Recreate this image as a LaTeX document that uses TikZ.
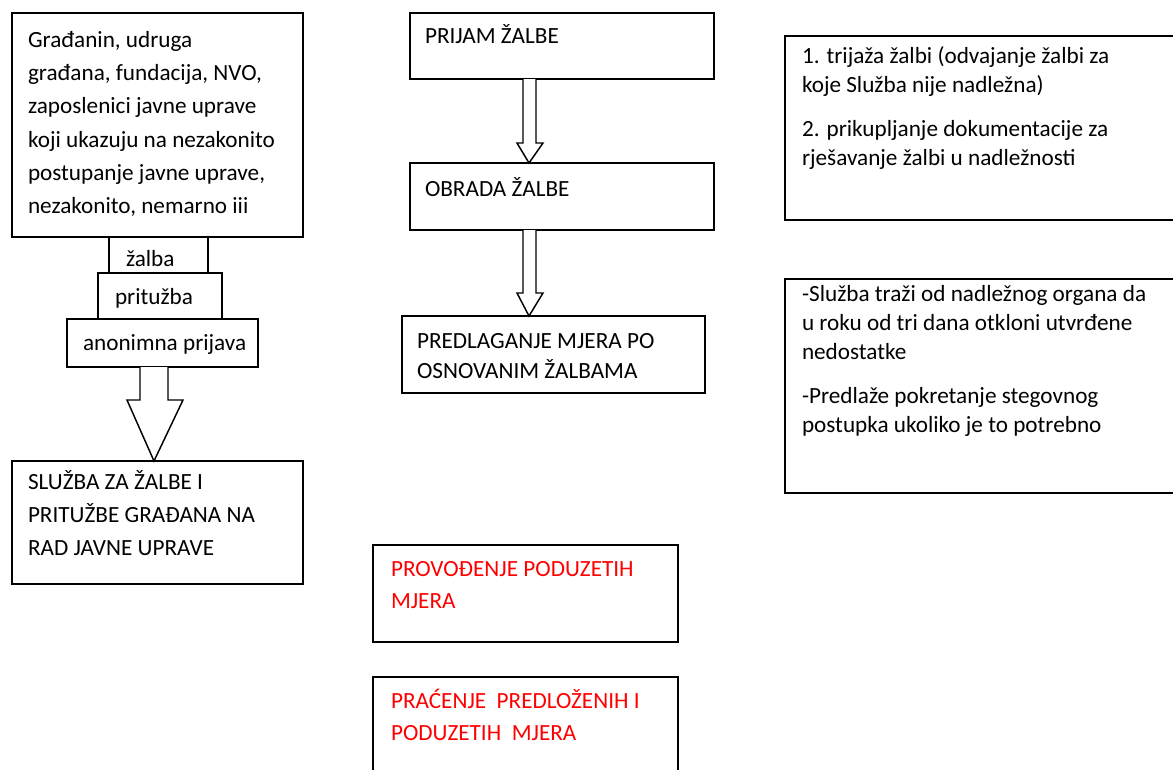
\documentclass[tikz,border=0pt]{standalone}
\usepackage{fontspec}
\setmainfont{Carlito}
\usetikzlibrary{calc}
\newcommand{\bx}[5]{\node[box, anchor=north west, minimum width={(#4-#2)*0.75pt}, minimum height={(#5-#3)*0.75pt}] (#1) at (#2,#3) {};}
\begin{document}
\begin{tikzpicture}[x=0.75pt, y=-0.75pt,
  box/.style={draw, line width=1.1pt, inner sep=0pt, outer sep=0pt},
  txt/.style={anchor=base west, inner sep=0pt, outer sep=0pt},
  lft/.style={txt, font=\fontsize{17.4}{25}\selectfont},
  mid/.style={txt, font=\fontsize{17.4}{22.5}\selectfont},
  rgt/.style={txt, font=\fontsize{17.4}{21.75}\selectfont},
  red/.style={txt, text=red, font=\fontsize{17.4}{24}\selectfont},
  blockarrow/.style={draw, fill=white, line width=1.1pt, line join=miter}]
\useasboundingbox (0,0) rectangle (1173,769);
\clip (0,0) rectangle (1173,769);
% boxes
\bx{src}{12}{13}{303}{237}
\bx{zalba}{109}{237}{208}{273}
\bx{prit}{98}{273}{222}{319}
\bx{anon}{67}{319}{258}{367}
\bx{svc}{12}{461}{303}{584}
\bx{prijam}{410}{13}{714}{79}
\bx{obrada}{410}{163}{714}{230}
\bx{predl}{402}{316}{705}{393}
\bx{tri}{785}{36}{1190}{220}
\bx{sluz}{785}{279}{1190}{493}
\bx{prov}{373}{545}{678}{642}
\bx{prac}{373}{677}{678}{790}
% texts
\node[lft] (srcT) at (28,47) {\parbox[t]{300pt}{Građanin, udruga\\građana, fundacija, NVO,\\zaposlenici javne uprave\\koji ukazuju na nezakonito\\postupanje javne uprave,\\nezakonito, nemarno iii}};
\node[lft] (zalbaT) at (126,266) {žalba};
\node[lft] (pritT) at (115,304) {pritužba};
\node[lft] (anonT) at (83,350) {anonimna prijava};
\node[lft] (svcT) at (28,489) {\parbox[t]{300pt}{SLUŽBA ZA ŽALBE I\\PRITUŽBE GRAĐANA NA\\RAD JAVNE UPRAVE}};
\node[mid] (prijamT) at (425,43) {PRIJAM ŽALBE};
\node[mid] (obradaT) at (425,196) {OBRADA ŽALBE};
\node[mid] (predlT) at (417,348) {\parbox[t]{300pt}{PREDLAGANJE MJERA PO\\OSNOVANIM ŽALBAMA}};
\node[rgt] (triT) at (802,63) {\parbox[t]{300pt}{1. trijaža žalbi (odvajanje žalbi za\\koje Služba nije nadležna)\\[11.25pt]2. prikupljanje dokumentacije za\\rješavanje žalbi u nadležnosti}};
\node[rgt] (sluzT) at (802,301) {\parbox[t]{300pt}{-Služba traži od nadležnog organa da\\u roku od tri dana otkloni utvrđene\\nedostatke\\[11.25pt]-Predlaže pokretanje stegovnog\\postupka ukoliko je to potrebno}};
\node[red] (provT) at (391,576) {\parbox[t]{300pt}{PROVOĐENJE PODUZETIH\\MJERA}};
\node[red] (pracT) at (391,708) {\parbox[t]{300pt}{PRAĆENJE\ \ PREDLOŽENIH I\\PODUZETIH\ \ MJERA}};
% block arrows
\draw[blockarrow] (140,0 |- anon.south) -- (140,400) -- (127,400) -- (154,0 |- svc.north) -- (183,400) -- (168,400) -- (168,0 |- anon.south);
\draw[blockarrow] (523,0 |- prijam.south) -- (523,143) -- (517,143) -- (529,0 |- obrada.north) -- (543,143) -- (536,143) -- (536,0 |- prijam.south);
\draw[blockarrow] (523,0 |- obrada.south) -- (523,293) -- (517,293) -- (529,0 |- predl.north) -- (543,293) -- (536,293) -- (536,0 |- obrada.south);
\end{tikzpicture}
\end{document}
